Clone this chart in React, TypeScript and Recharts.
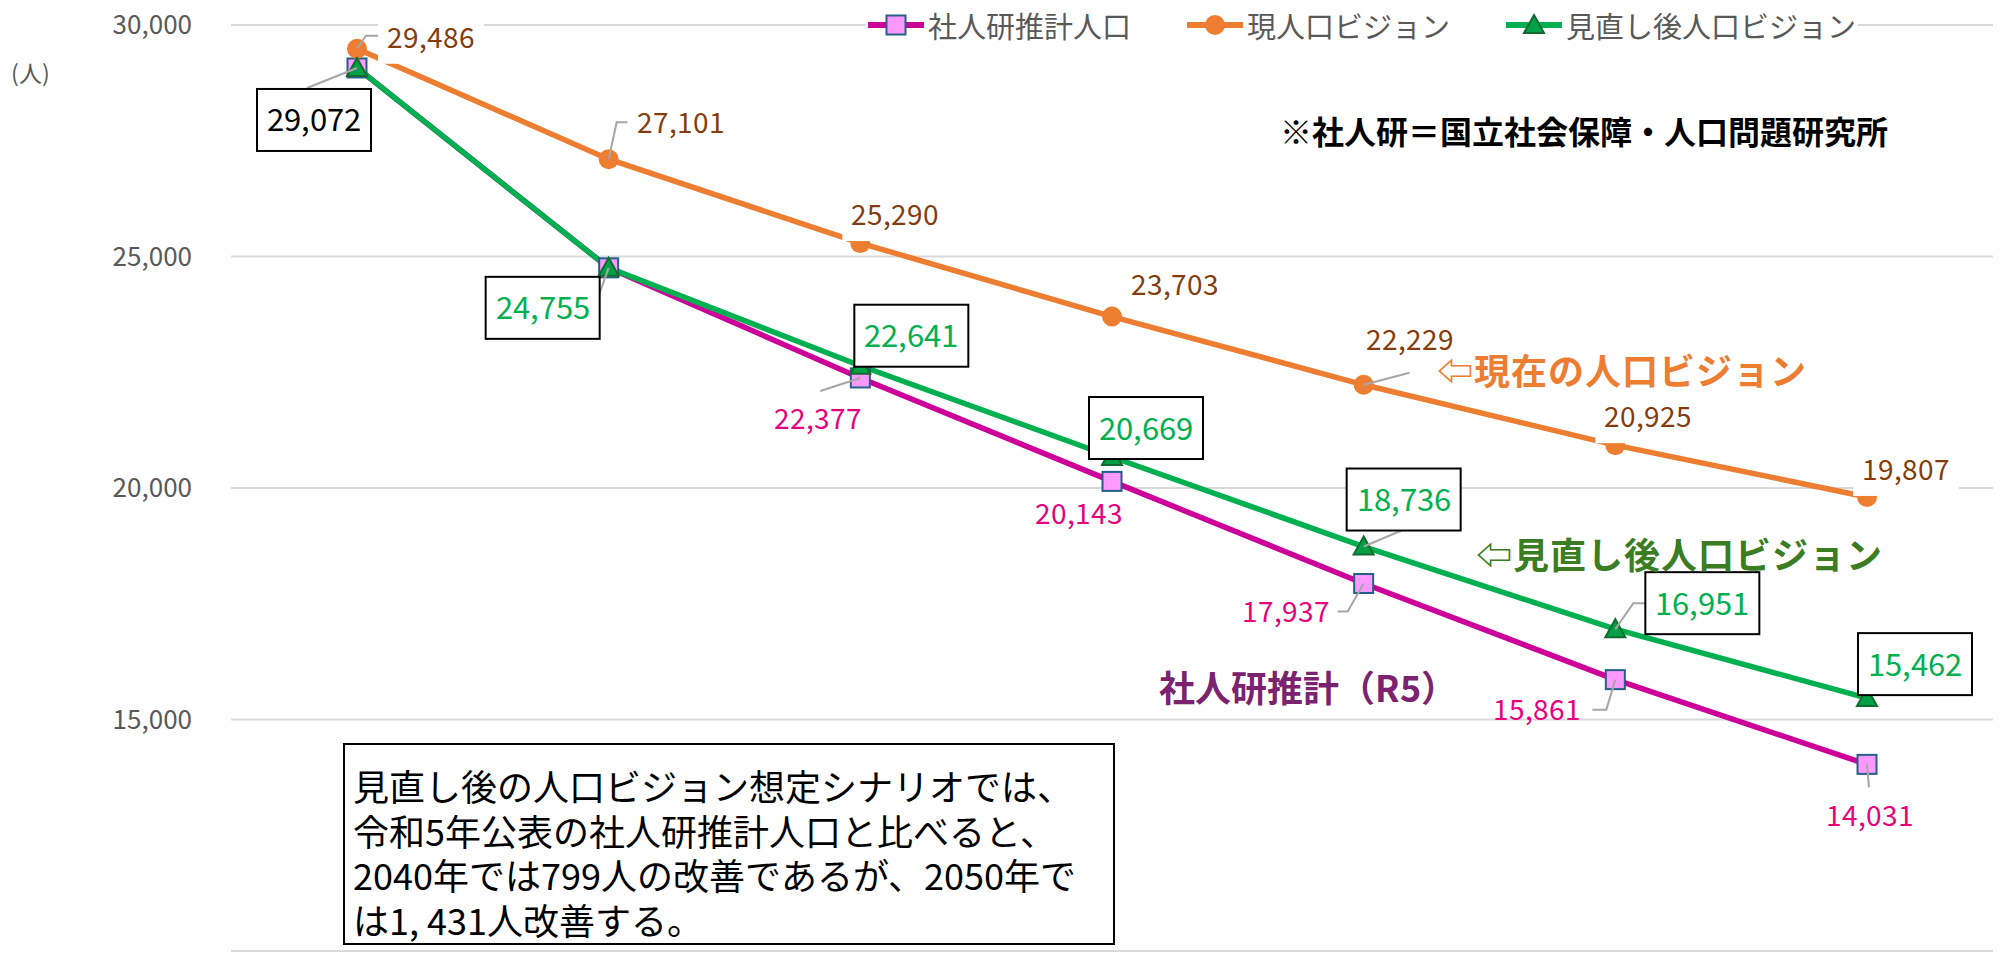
import { LineChart, Line, XAxis, YAxis, CartesianGrid, Legend } from 'recharts';

const years = ['2020年', '2025年', '2030年', '2035年', '2040年', '2045年', '2050年'];
const ipssValues = [29072, 24755, 22377, 20143, 17937, 15861, 14031];
const currentVisionValues = [29486, 27101, 25290, 23703, 22229, 20925, 19807];
const revisedVisionValues = [29072, 24755, 22641, 20669, 18736, 16951, 15462];
const yTicks = [10000, 15000, 20000, 25000, 30000];
const legendOrder = ['ipss', 'current', 'revised'];

const data = years.map((year, i) => ({
  year,
  ipss: ipssValues[i],
  current: currentVisionValues[i],
  revised: revisedVisionValues[i],
}));

const FONT = '"Noto Sans CJK JP", "Noto Sans", "DejaVu Sans", sans-serif';
// same face with tighter line metrics so neighbouring texts don't report false overlaps
const TIGHT = '"TightJP", "Noto Sans CJK JP", "DejaVu Sans", sans-serif';
const PINK = '#CC0099';
const ORANGE = '#ED7D31';
const GREEN = '#00B050';
const LEADER = '#A6A6A6';

type Leader = [number, number][];
type LabelPlace = { dx: number; dy: number; leader?: Leader; color?: string } | null;

// label centre offsets from their point (Excel had them dragged around by hand)
const currentLabels: LabelPlace[] = [
  { dx: 74, dy: -12, leader: [[9, -13], [21, -13]] },
  { dx: 72, dy: -37, leader: [[8, -37], [19, -37]] },
  { dx: 35, dy: -29 },
  { dx: 63, dy: -33 },
  { dx: 46, dy: -46, leader: [[46, -12]] },
  { dx: 33, dy: -29 },
  { dx: 39, dy: -28 },
];
const ipssLabels: LabelPlace[] = [
  null,
  null,
  { dx: -42, dy: 40, leader: [[-40, 13]] },
  { dx: -33, dy: 32 },
  { dx: -78, dy: 27, leader: [[-16, 28], [-26, 28]] },
  { dx: -78, dy: 29, leader: [[-9, 30], [-23, 30]] },
  { dx: 3, dy: 51, leader: [[2, 23]] },
];
const revisedLabels: LabelPlace[] = [
  { dx: -43, dy: 52, leader: [[-50, 20]], color: '#000' },
  { dx: -66, dy: 40, leader: [[-9, 25]] },
  { dx: 51, dy: -30 },
  { dx: 34, dy: -29 },
  { dx: 40, dy: -47, leader: [[38, -16]] },
  { dx: 87, dy: -26, leader: [[18, -26], [31, -26]] },
  { dx: 48, dy: -34 },
];

const fmt = (v: number) => v.toLocaleString('en-US');

const Marker = ({ kind, cx, cy }: { kind: string; cx: number; cy: number }) => {
  if (kind === 'current') return <circle cx={cx} cy={cy} r={10} fill={ORANGE} />;
  if (kind === 'ipss')
    return <rect x={cx - 9.5} y={cy - 9.5} width={19} height={19} fill="#FF99FF" stroke="#245F87" strokeWidth={2} />;
  return (
    <path
      d={`M${cx},${cy - 10} L${cx + 10},${cy + 8} L${cx - 10},${cy + 8} Z`}
      fill="#00A046"
      stroke="#136B2E"
      strokeWidth={2}
    />
  );
};

const renderPoint = (kind: string, places: LabelPlace[]) => (props: any) => {
  const { cx, cy, index, value } = props;
  const place = places[index];
  let label = null;
  if (place) {
    const lx = cx + place.dx;
    const ly = cy + place.dy;
    const pts = [[cx, cy], ...(place.leader || []).map(([a, b]) => [cx + a, cy + b])];
    const leader =
      place.leader ? (
        <polyline points={pts.map((p) => p.join(',')).join(' ')} fill="none" stroke={LEADER} strokeWidth={2} />
      ) : null;
    if (kind === 'current') {
      label = (
        <g>
          {leader}
          <rect x={lx - 53} y={ly - 24} width={106} height={51} fill="#fff" />
          <text x={lx} y={ly} textAnchor="middle" dominantBaseline="central" fill="#843C0C" fontSize={28} fontFamily={TIGHT}>
            {fmt(value)}
          </text>
        </g>
      );
    } else if (kind === 'ipss') {
      label = (
        <g>
          {leader}
          <text x={lx} y={ly} textAnchor="middle" dominantBaseline="central" fill="#E6007E" fontSize={28} fontFamily={TIGHT}>
            {fmt(value)}
          </text>
        </g>
      );
    } else {
      label = (
        <g>
          {leader}
          <rect x={lx - 57} y={ly - 31} width={114} height={62} fill="#fff" stroke="#000" strokeWidth={2} />
          <text
            x={lx}
            y={ly}
            textAnchor="middle"
            dominantBaseline="central"
            fill={place.color || GREEN}
            fontSize={31}
            fontFamily={TIGHT}
          >
            {fmt(value)}
          </text>
        </g>
      );
    }
  }
  return (
    <g key={`${kind}-${index}`}>
      <Marker kind={kind} cx={cx} cy={cy} />
      {label}
    </g>
  );
};

const renderLegend = (props: any) => {
  const payload = [...(props.payload || [])].sort(
    (a: any, b: any) => legendOrder.indexOf(a.dataKey) - legendOrder.indexOf(b.dataKey)
  );
  return (
    <div
      style={{
        display: 'inline-flex',
        alignItems: 'center',
        background: '#fff',
        padding: '0 2px',
        fontFamily: FONT,
        fontSize: 29,
        color: '#595959',
        lineHeight: '44px',
        height: 44,
      }}
    >
      {payload.map((entry: any, i: number) => (
        <div key={entry.dataKey} style={{ display: 'flex', alignItems: 'center', marginLeft: i ? 56 : 0 }}>
          <svg width={56} height={30}>
            <line x1={0} y1={15} x2={56} y2={15} stroke={entry.color} strokeWidth={6} />
            <Marker kind={entry.dataKey} cx={28} cy={15} />
          </svg>
          <span style={{ marginLeft: 4 }}>{entry.value}</span>
        </div>
      ))}
    </div>
  );
};

const overlay = (left: number, cy: number, size: number, color: string, bold = true) => ({
  position: 'absolute' as const,
  left,
  top: cy - size / 2,
  fontSize: size,
  lineHeight: 1,
  color,
  fontWeight: bold ? 700 : 400,
  fontFamily: TIGHT,
  whiteSpace: 'nowrap' as const,
});

const noteLines = [
  '見直し後の人口ビジョン想定シナリオでは、',
  '令和5年公表の社人研推計人口と比べると、',
  '2040年では799人の改善であるが、2050年で',
  'は1, 431人改善する。',
];

export default function App() {
  return (
    <div style={{ position: 'absolute', left: 0, top: 0, width: 2004, height: 965, background: '#fff', fontFamily: FONT }}>
      <style>{`
        @font-face {
          font-family: 'TightJP';
          font-weight: 400;
          src: local('Noto Sans CJK JP Regular'), local('NotoSansCJKjp-Regular'), local('Noto Sans CJK JP');
          ascent-override: 88%;
          descent-override: 12%;
          line-gap-override: 0%;
        }
        @font-face {
          font-family: 'TightJP';
          font-weight: 700;
          src: local('Noto Sans CJK JP Bold'), local('NotoSansCJKjp-Bold');
          ascent-override: 88%;
          descent-override: 12%;
          line-gap-override: 0%;
        }
      `}</style>
      <LineChart width={2004} height={965} data={data} margin={{ top: 25, right: 11, bottom: 14, left: 151 }}>
        <CartesianGrid vertical={false} stroke="#D9D9D9" strokeWidth={2} />
        <XAxis dataKey="year" hide padding={{ left: 126, right: 126 }} />
        <YAxis
          width={80}
          domain={[10000, 30000]}
          ticks={yTicks}
          axisLine={false}
          tickLine={false}
          tickSize={0}
          tickMargin={39}
          tick={{ fill: '#595959', fontSize: 26, fontFamily: FONT }}
          tickFormatter={fmt}
        />
        <Legend
          layout="horizontal"
          verticalAlign="middle"
          align="center"
          itemSorter={null as any}
          wrapperStyle={{ top: 3, left: 866, width: 1040, height: 44 }}
          content={renderLegend}
        />
        <Line
          dataKey="ipss"
          name="社人研推計人口"
          stroke={PINK}
          strokeWidth={5.5}
          dot={renderPoint('ipss', ipssLabels)}
          activeDot={false}
          isAnimationActive={false}
        />
        <Line
          dataKey="current"
          name="現人口ビジョン"
          stroke={ORANGE}
          strokeWidth={5.5}
          dot={renderPoint('current', currentLabels)}
          activeDot={false}
          isAnimationActive={false}
        />
        <Line
          dataKey="revised"
          name="見直し後人口ビジョン"
          stroke={GREEN}
          strokeWidth={5.5}
          dot={renderPoint('revised', revisedLabels)}
          activeDot={false}
          isAnimationActive={false}
        />
      </LineChart>

      <div style={overlay(11, 73, 23, '#595959', false)}>(人)</div>
      <div style={overlay(1280, 132, 32, '#000')}>※社人研＝国立社会保障・人口問題研究所</div>
      <div style={{ ...overlay(1437, 371, 36, ORANGE), letterSpacing: 1 }}>⇦現在の人口ビジョン</div>
      <div style={{ ...overlay(1476, 555, 36, '#3A7D22'), letterSpacing: 1 }}>⇦見直し後人口ビジョン</div>
      <div style={overlay(1159, 688, 36, '#7B2270')}>社人研推計（R5）</div>

      <div
        style={{
          position: 'absolute',
          left: 343,
          top: 743,
          width: 768,
          height: 198,
          border: '2px solid #000',
          background: '#fff',
        }}
      >
        {noteLines.map((line, i) => (
          <div
            key={i}
            style={{
              position: 'absolute',
              left: 8,
              top: 22 + i * 44.5,
              fontSize: 36,
              lineHeight: '40px',
              fontFamily: TIGHT,
              color: '#000',
              whiteSpace: 'nowrap',
            }}
          >
            {line}
          </div>
        ))}
      </div>
    </div>
  );
}
